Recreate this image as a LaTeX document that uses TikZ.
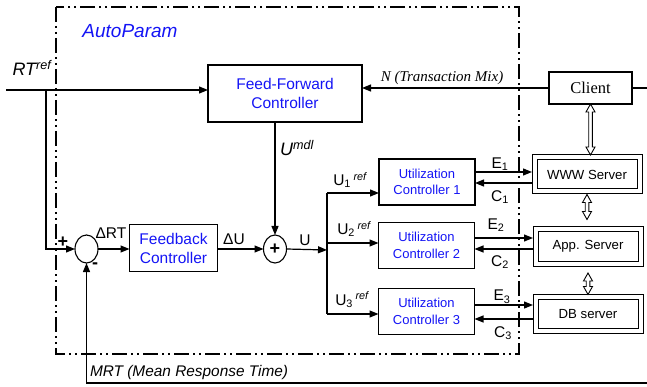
\documentclass[tikz,border=0pt]{standalone}
\usepackage{fontspec}
\setmainfont{Liberation Sans}
\newfontfamily\tmsfont{Liberation Serif}
\usetikzlibrary{arrows.meta,calc,shapes.geometric}
\definecolor{ctlblue}{RGB}{20,20,245}
\newcommand{\dblarr}[2]{\draw[line width=0.9pt, fill=white] let \p1=#1, \p2=#2 in
  (\x1,\y1) -- (\x1+4.5pt,\y1-8pt) -- (\x1+1.8pt,\y1-8pt) -- (\x1+1.8pt,\y2+8pt) -- (\x1+4.5pt,\y2+8pt) -- (\x1,\y2)
  -- (\x1-4.5pt,\y2+8pt) -- (\x1-1.8pt,\y2+8pt) -- (\x1-1.8pt,\y1-8pt) -- (\x1-4.5pt,\y1-8pt) -- cycle;}
\begin{document}
\begin{tikzpicture}[x=1pt,y=-1pt,
  every node/.style={inner sep=0pt, outer sep=0pt},
  box/.style={draw, line width=1.1pt, align=center},
  ctl/.style={box, text=ctlblue, font=\fontsize{15.5}{19}\selectfont},
  uctl/.style={box, text=ctlblue, font=\fontsize{13}{16.7}\selectfont, minimum width=96pt, minimum height=46pt},
  srv/.style={draw, double, double distance=4pt, line width=1pt, minimum width=105pt, minimum height=34pt, font=\fontsize{13.2}{16}\selectfont},
  sumj/.style={draw, ellipse, line width=1.1pt, minimum width=23pt, minimum height=28pt},
  arr/.style={line width=1.2pt, -{Triangle[length=9pt,width=7pt]}},
  ln/.style={line width=1.2pt},
  lbl/.style={font=\fontsize{15.5}{17}\selectfont},
  sgn/.style={font=\bfseries\fontsize{18}{18}\selectfont},
]
\useasboundingbox (0,0) rectangle (647,387);
% frame
\draw[line width=2pt, dash pattern=on 15pt off 4pt on 2pt off 4pt on 2pt off 4pt] (56,7) rectangle (519,354);
% blocks
\node[ctl, minimum width=154pt, minimum height=57pt] (ff) at (285,93.5) {Feed-Forward\\Controller};
\node[ctl, minimum width=88pt, minimum height=47pt] (fb) at (173.5,248) {Feedback\\Controller};
\node[sumj] (s1) at (86.5,249) {};
\node[sumj, sgn] (s2) at (275,249) {+};
\node[uctl] (uc1) at (427,182) {Utilization\\Controller 1};
\node[uctl] (uc2) at (426.5,245.5) {Utilization\\Controller 2};
\node[uctl] (uc3) at (426.5,311.5) {Utilization\\Controller 3};
\node[box, minimum width=83pt, minimum height=32pt, font=\tmsfont\fontsize{16.5}{18}\selectfont] (cl) at (590.5,88) {Client};
\node[srv] (www) at (587,174.5) {WWW Server};
\node[srv] (app) at (588,246.5) {App. Server};
\node[srv] (db) at (588,314) {DB server};
% coordinates
\coordinate (rtin) at (6,90);
\coordinate (br) at (46,90);
\coordinate (bus) at (327,250);
\coordinate (clout) at (647,88);
\coordinate (mrtin) at (647,383);
% connectors
\draw[arr] (rtin) -- (rtin -| ff.west);
\draw[arr] (br) |- (s1.west);
\draw[arr] (cl.west) -- (cl.west -| ff.east);
\draw[ln] (cl.east) -- (clout);
\draw[arr] (mrtin) -| (s1.south);
\draw[arr] (s1.east) -- (s1.east -| fb.west);
\draw[arr] (fb.east |- s2.west) -- (s2.west);
\draw[arr] (s2.north |- ff.south) -- (s2.north);
\draw[arr] (s2.east) -- (bus);
\draw[ln] ([yshift=-11pt]uc1.west -| bus) -- ([yshift=-2.5pt]uc3.west -| bus);
\draw[arr] ([yshift=-11pt]uc1.west -| bus) -- ([yshift=-11pt]uc1.west);
\draw[arr] ([yshift=2.5pt]uc2.west -| bus) -- ([yshift=2.5pt]uc2.west);
\draw[arr] ([yshift=-2.5pt]uc3.west -| bus) -- ([yshift=-2.5pt]uc3.west);
\draw[arr, shorten >=2.5pt] ([yshift=10pt]uc1.east) -- ([yshift=10pt]uc1.east -| www.west);
\draw[arr, shorten <=2.5pt] ([yshift=-1pt]uc1.east -| www.west) -- ([yshift=-1pt]uc1.east);
\draw[arr, shorten >=2.5pt] ([yshift=7.5pt]uc2.east) -- ([yshift=7.5pt]uc2.east -| app.west);
\draw[arr, shorten <=2.5pt] ([yshift=-3.5pt]uc2.east -| app.west) -- ([yshift=-3.5pt]uc2.east);
\draw[arr, shorten >=2.5pt] ([yshift=6.5pt]uc3.east) -- ([yshift=6.5pt]uc3.east -| db.west);
\draw[arr, shorten <=2.5pt] ([yshift=-7.5pt]uc3.east -| db.west) -- ([yshift=-7.5pt]uc3.east);
% open double arrows
\dblarr{(cl.south)}{($(www.north)+(0,-2.5)$)}
\dblarr{($(www.south)+(0,3)$)}{($(app.north)+(0,-10)$)}
\dblarr{($(app.south)+(0,9.5)$)}{($(db.north)+(0,-2.5)$)}
% labels
\node[font=\itshape\fontsize{19}{21}\selectfont, text=ctlblue] (ap) at (130,31) {AutoParam};
\node[font=\itshape\fontsize{18}{20}\selectfont] (rt) at (32,68) {RT\textsuperscript{ref}};
\node[font=\itshape\fontsize{18}{20}\selectfont] (um) at (297,148) {U\textsuperscript{mdl}};
\node[font=\tmsfont\itshape\fontsize{15}{17}\selectfont] (nl) at (442,78) {N (Transaction Mix)};
\node[lbl] (drt) at (111,233) {ΔRT};
\node[sgn] (plus) at (63,242) {+};
\node[sgn] (minus) at (95,266) {-};
\node[lbl] (du) at (234,239) {ΔU};
\node[lbl] (ul) at (305,240) {U};
\node[lbl] (u1) at (350,180) {U\textsubscript{1}\,\textsuperscript{\itshape ref}};
\node[lbl] (u2) at (354,229) {U\textsubscript{2}\,\textsuperscript{\itshape ref}};
\node[lbl] (u3) at (352,300) {U\textsubscript{3}\,\textsuperscript{\itshape ref}};
\node[lbl] (e1) at (500,164) {E\textsubscript{1}};
\node[lbl] (c1) at (500,197) {C\textsubscript{1}};
\node[lbl] (e2) at (496,225) {E\textsubscript{2}};
\node[lbl] (c2) at (500,262) {C\textsubscript{2}};
\node[lbl] (e3) at (502,297) {E\textsubscript{3}};
\node[lbl] (c3) at (503,333) {C\textsubscript{3}};
\node[font=\itshape\fontsize{15.4}{17}\selectfont, anchor=west] (mrt) at (90,373) {MRT (Mean Response Time)};
\end{tikzpicture}
\end{document}
